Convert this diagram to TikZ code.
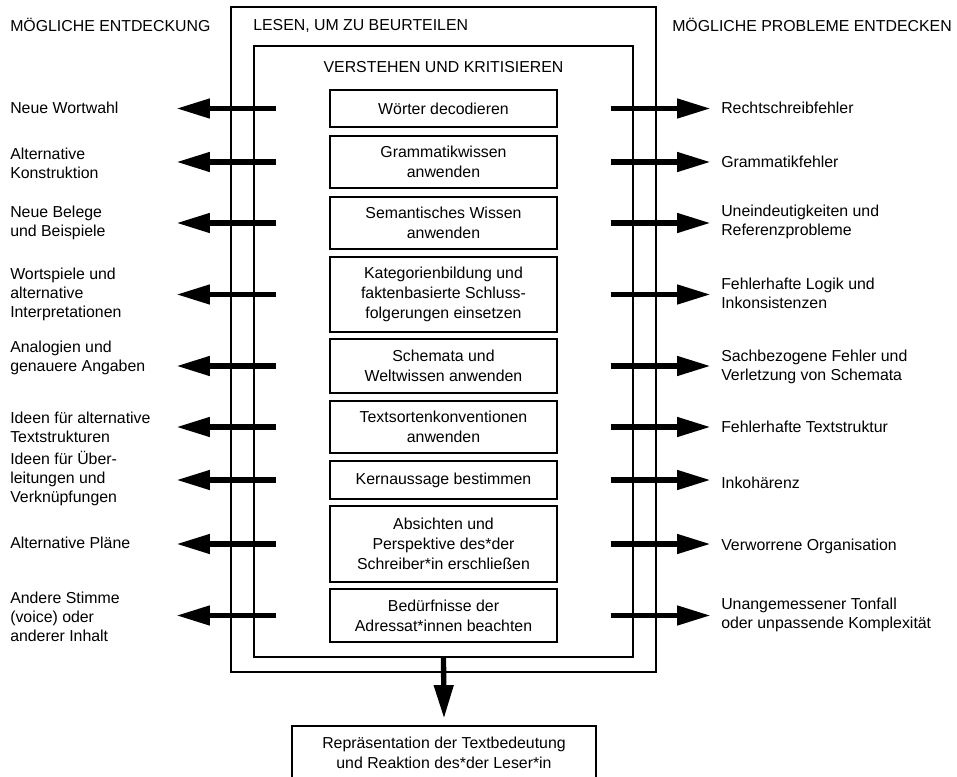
\documentclass[tikz,border=0pt]{standalone}
\usepackage{fontspec}
\setmainfont{Liberation Sans}
\usetikzlibrary{arrows.meta}
\tikzset{
  box/.style={draw, line width=0.8pt, minimum width=170.25pt, align=center, inner sep=0pt,
    font=\fontsize{11.9pt}{15pt}\selectfont},
  frame/.style={draw, line width=0.8pt, inner sep=0pt},
  lab/.style={anchor=west, align=left, inner sep=0pt, font=\fontsize{11.9pt}{14.25pt}\selectfont},
  arr/.style={line width=4pt, -{Triangle[length=25pt,width=14pt]}},
}
\begin{document}
\begin{tikzpicture}[x=0.75pt,y=-0.75pt]
\useasboundingbox (0,0) rectangle (957,777);
\clip (0,0) rectangle (957,777);
\node[frame, minimum width=318.75pt, minimum height=498.75pt] (outer) at (443.5,339.5) {};
\node[frame, minimum width=284.25pt, minimum height=458.25pt] (inner) at (443.5,351.5) {};
\node[lab] (leseh) at (253,26) {LESEN, UM ZU BEURTEILEN};
\node[lab, anchor=center] (versh) at (443.5,67) {VERSTEHEN UND KRITISIEREN};
\node[lab] (lhead) at (10,25) {MÖGLICHE ENTDECKUNG};
\node[lab] (rhead) at (672,25) {MÖGLICHE PROBLEME ENTDECKEN};
% Kaestchen in der Mitte
\node[box, minimum height=27.75pt] (b1) at (443.5,108.5) {Wörter decodieren};
\node[box, minimum height=39pt] (b2) at (443.5,162) {Grammatikwissen\\anwenden};
\node[box, minimum height=39pt] (b3) at (443.5,223) {Semantisches Wissen\\anwenden};
\node[box, minimum height=56.25pt] (b4) at (443.5,294.5) {Kategorienbildung und\\faktenbasierte Schluss-\\folgerungen einsetzen};
\node[box, minimum height=40.5pt] (b5) at (443.5,366) {Schemata und\\Weltwissen anwenden};
\node[box, minimum height=39pt] (b6) at (443.5,427) {Textsortenkonventionen\\anwenden};
\node[box, minimum height=28.5pt] (b7) at (443.5,480) {Kernaussage bestimmen};
\node[box, minimum height=57pt] (b8) at (443.5,544) {Absichten und\\Perspektive des*der\\Schreiber*in erschließen};
\node[box, minimum height=39.75pt] (b9) at (443.5,615.5) {Bedürfnisse der\\Adressat*innen beachten};
\node[box, minimum width=228pt, minimum height=40.5pt] (rep) at (444,753) {Repräsentation der Textbedeutung\\und Reaktion des*der Leser*in};
% linke Seite
\node[lab] (l1) at (10,108) {Neue Wortwahl};
\node[lab] (l2) at (10,163) {Alternative\\Konstruktion};
\node[lab] (l3) at (10,223) {Neue Belege\\und Beispiele};
\node[lab] (l4) at (10,294) {Wortspiele und\\alternative\\Interpretationen};
\node[lab] (l5) at (10,358) {Analogien und\\genauere Angaben};
\node[lab] (l6) at (10,427) {Ideen für alternative\\Textstrukturen};
\node[lab] (l7) at (10,479) {Ideen für Über-\\leitungen und\\Verknüpfungen};
\node[lab] (l8) at (10,543) {Alternative Pläne};
\node[lab] (l9) at (10,617) {Andere Stimme\\(voice) oder\\anderer Inhalt};
% rechte Seite
\node[lab] (r1) at (721,108) {Rechtschreibfehler};
\node[lab] (r2) at (721,162) {Grammatikfehler};
\node[lab] (r3) at (721,222) {Uneindeutigkeiten und\\Referenzprobleme};
\node[lab] (r4) at (721,293) {Fehlerhafte Logik und\\Inkonsistenzen};
\node[lab] (r5) at (721,367) {Sachbezogene Fehler und\\Verletzung von Schemata};
\node[lab] (r6) at (721,427) {Fehlerhafte Textstruktur};
\node[lab] (r7) at (721,483) {Inkohärenz};
\node[lab] (r8) at (721,546) {Verworrene Organisation};
\node[lab] (r9) at (721,615) {Unangemessener Tonfall\\oder unpassende Komplexität};
\foreach \b in {b1,b2,b3,b4,b5,b6,b7,b8,b9}{
  \draw[arr] (\b.west) ++(-53,0) -- ++(-100,0);
  \draw[arr] (\b.east) ++(53,0) -- ++(100,0);
}
\draw[arr] (inner.south) -- ([yshift=5.25pt]rep.north);
\end{tikzpicture}
\end{document}
